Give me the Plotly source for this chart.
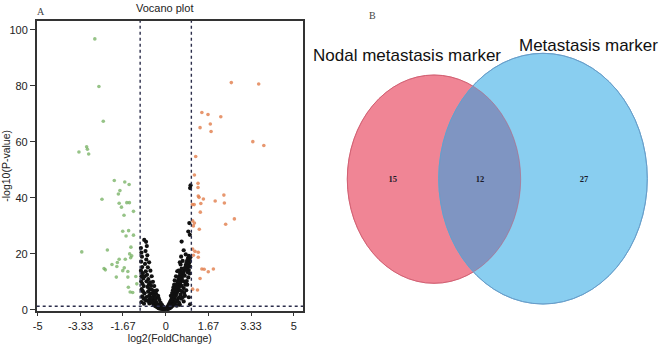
import numpy as np
import plotly.graph_objects as go

# ---------------- data: volcano plot ----------------
down_x = [-2.77, -2.61, -2.44, -3.39, -3.09, -3.06, -3.01, -2.01, -1.60, -1.43, -1.79, -1.85,
          -2.49, -1.82, -1.52, -1.42, -1.73, -1.26, -1.63, -1.68, -1.45, -1.55, -1.26, -3.28,
          -2.28, -1.36, -1.41, -1.33, -1.37, -1.82, -1.58, -1.89, -2.10, -2.41, -2.36, -1.91,
          -1.62, -1.68, -1.48, -1.93, -1.48, -1.17, -1.46, -1.39, -1.29, -1.13]
down_y = [96.8, 79.8, 67.4, 56.4, 58.3, 57.4, 55.7, 46.2, 45.7, 44.8, 42.6, 41.4,
          39.5, 38.1, 38.3, 38.3, 36.7, 35.2, 33.8, 28.1, 28.3, 26.4, 26.7, 20.7,
          21.4, 22.4, 20.0, 19.3, 18.6, 18.1, 18.1, 16.9, 16.2, 14.8, 14.3, 15.5,
          15.0, 14.0, 13.7, 11.7, 11.7, 11.9, 8.1, 6.4, 6.2, 9.3]

up_x = [2.56, 3.63, 1.41, 1.65, 2.15, 1.34, 1.74, 1.77, 3.40, 3.83, 1.17, 1.12, 1.26, 1.27,
        1.47, 1.37, 1.11, 1.93, 2.27, 2.29, 1.35, 2.68, 2.34, 1.05, 1.12, 1.08, 1.31, 1.05,
        1.14, 1.27, 1.08, 1.27, 1.41, 1.86, 1.50, 1.66, 1.34, 1.05, 1.24, 1.04, 1.30, 1.26]
up_y = [81.2, 80.7, 70.5, 69.8, 69.0, 65.1, 66.4, 63.7, 60.1, 58.7, 54.8, 48.2, 43.7, 40.7,
        39.6, 38.0, 37.6, 38.9, 41.0, 38.2, 34.9, 32.5, 30.6, 31.8, 31.0, 30.0, 28.8, 21.7,
        20.9, 20.6, 19.5, 18.8, 14.6, 14.6, 14.5, 13.6, 11.2, 7.4, 7.1, 37.6, 40.2, 45.2]

ns_x = [-0.97, -0.95, -0.93, -0.96, -0.92, -0.97, -0.90, -0.95, -0.88, -0.96, -0.91, -0.86,
        -0.94, -0.89, -0.83, -0.92, -0.87, -0.80, -0.95, -0.85,
        -0.77, -0.74, -0.79, -0.72, -0.76, -0.81, -0.70, -0.78, -0.73, -0.68, -0.75, -0.66,
        -0.71, -0.63, -0.69, -0.60, -0.65, -0.57, -0.62, -0.54, -0.59, -0.50, -0.47, -0.43,
        -0.38, -0.33, -0.28, -0.23, -0.18, -0.12, -0.07,
        -0.55, -0.50, -0.46, -0.52, -0.42, -0.45, -0.37, -0.40, -0.32, -0.35, -0.27, -0.30,
        -0.22, -0.25, -0.17, -0.20, -0.13, -0.15, -0.09, -0.05,
        -0.84, -0.61, -0.57, -0.48, -0.40, -0.58, -0.64, -0.70, -0.75, -0.82,
        -0.30, -0.35, -0.25, -0.45, -0.50, -0.55, -0.60, -0.65, -0.20, -0.15, -0.10,
        -0.38, -0.42, -0.28,
        0.03, 0.06, 0.09, 0.12, 0.15, 0.18, 0.21, 0.24, 0.27, 0.30, 0.33, 0.36, 0.39, 0.42,
        0.45, 0.48, 0.51, 0.54, 0.57, 0.60, 0.63, 0.66, 0.69, 0.72, 0.75, 0.78, 0.81, 0.84,
        0.87, 0.90,
        0.05, 0.08, 0.11, 0.14, 0.17, 0.20, 0.23, 0.26, 0.29, 0.32, 0.35, 0.38, 0.41, 0.44,
        0.47, 0.50, 0.53, 0.56, 0.59, 0.62,
        0.10, 0.16, 0.22, 0.28, 0.34, 0.40, 0.46, 0.52, 0.58, 0.64, 0.70, 0.76, 0.82, 0.88,
        0.94,
        0.85, 0.88, 0.92, 0.95, 0.90, 0.86, 0.93, 0.96, 0.80, 0.74, 0.68, 0.62, 0.56,
        0.62, 0.70, 0.88, 0.92, 0.95, 0.97, 0.94, 0.78, 0.66, 0.58, 0.45, 0.95, 0.90, 0.70,
        0.55,
        0.30, 0.35, 0.40, 0.50, 0.55, 0.60, 0.25, 0.20, 0.28, 0.33, 0.45, 0.60, 0.75, 0.80,
        0.84, 0.72, 0.66, 0.78, 0.52, 0.43]
ns_y = [22.1, 20.5, 19.0, 17.2, 15.3, 14.0, 13.1, 12.0, 11.2, 10.1, 9.3, 8.5,
        7.4, 6.6, 5.9, 4.8, 4.1, 3.5, 2.8, 2.2,
        24.3, 22.8, 21.0, 19.5, 18.0, 16.4, 15.2, 13.8, 12.5, 11.0, 10.2, 9.0,
        8.2, 7.4, 6.5, 5.8, 5.0, 4.5, 3.9, 3.3, 2.8, 2.4, 1.9, 1.5,
        1.2, 0.9, 0.6, 0.4, 0.3, 0.2, 0.1,
        7.2, 6.0, 5.2, 4.1, 3.6, 2.9, 2.5, 3.1, 1.9, 2.2, 1.4, 1.6,
        1.0, 1.2, 0.7, 0.9, 0.5, 0.6, 0.3, 0.2,
        25.0, 9.8, 8.6, 6.8, 4.3, 3.0, 2.3, 3.2, 4.6, 12.0,
        5.0, 7.0, 3.5, 8.5, 10.0, 12.0, 14.0, 17.0, 2.5, 1.8, 1.2,
        5.8, 6.6, 4.2,
        0.1, 0.3, 0.5, 0.8, 1.1, 1.5, 1.9, 2.4, 2.9, 3.4, 4.0, 4.6, 5.2, 5.9,
        6.6, 7.3, 8.1, 8.9, 9.7, 10.5, 11.4, 12.3, 13.2, 14.1, 15.0, 16.0, 16.8, 17.7,
        18.5, 19.3,
        0.8, 1.2, 1.7, 2.2, 2.8, 3.3, 3.9, 4.6, 5.3, 6.0, 6.8, 7.6, 8.4, 9.3,
        10.2, 11.1, 12.0, 12.9, 13.8, 14.7,
        0.3, 0.6, 1.0, 1.5, 2.1, 2.8, 3.6, 4.5, 5.5, 6.6, 7.8, 9.0, 10.3, 11.6,
        13.0,
        15.2, 16.0, 16.8, 15.5, 14.2, 13.4, 17.9, 18.8, 14.5, 12.2, 10.3, 8.6, 7.0,
        24.4, 21.3, 28.0, 31.0, 43.5, 44.5, 26.8, 19.8, 17.5, 16.2, 13.8, 2.0, 4.5, 3.0,
        1.8,
        8.0, 10.5, 12.0, 14.0, 17.0, 19.0, 6.0, 5.0, 7.0, 9.0, 3.0, 4.0, 5.0, 7.0,
        9.0, 6.0, 4.5, 10.0, 2.5, 1.5]

x_ticks = [-5, -3.33, -1.67, 0, 1.67, 3.33, 5]
y_ticks = [0, 20, 40, 60, 80, 100]
fc_cut = 1
p_cut = 1.3

# ---------------- data: Venn ----------------
venn_sets = ["Nodal metastasis marker", "Metastasis marker"]
venn_counts = [15, 12, 27]   # only nodal, both, only metastasis

fig = go.Figure()

fig.add_trace(go.Scatter(x=ns_x, y=ns_y, mode="markers",
                         marker=dict(color="#111111", size=4.2), showlegend=False))
fig.add_trace(go.Scatter(x=down_x, y=down_y, mode="markers",
                         marker=dict(color="rgba(115,175,95,0.75)", size=3.6), showlegend=False))
fig.add_trace(go.Scatter(x=up_x, y=up_y, mode="markers",
                         marker=dict(color="rgba(225,125,75,0.8)", size=3.6), showlegend=False))

# Venn ellipse geometry (in pixel-like coordinates of the second axes)
red = dict(x0=347.3, x1=520.7, y0=75, y1=283.3)
blue = dict(x0=438.7, x1=647.3, y0=53.3, y1=304)

def ell(e):
    return ((e["x0"] + e["x1"]) / 2, (e["y0"] + e["y1"]) / 2,
            (e["x1"] - e["x0"]) / 2, (e["y1"] - e["y0"]) / 2)

def inside(e, px, py):
    cx, cy, a, b = ell(e)
    return ((px - cx) / a) ** 2 + ((py - cy) / b) ** 2 <= 1.0

t = np.linspace(-np.pi, np.pi, 721)
cx, cy, a, b = ell(red)
rx, ry = cx + a * np.cos(t), cy + b * np.sin(t)
m = inside(blue, rx, ry)
arc1 = list(zip(rx[m], ry[m]))
t2 = np.linspace(0, 2 * np.pi, 721)
cx, cy, a, b = ell(blue)
bx, by = cx + a * np.cos(t2), cy + b * np.sin(t2)
m2 = inside(red, bx, by)
arc2 = list(zip(bx[m2], by[m2]))
pts = arc1 + arc2
lens_path = "M " + " L ".join(f"{px:.2f},{py:.2f}" for px, py in pts) + " Z"

shapes = []
shapes.append(dict(type="circle", xref="x2", yref="y2", layer="below",
                   fillcolor="#F08595", line=dict(color="#DC6678", width=1), **red))
shapes.append(dict(type="circle", xref="x2", yref="y2", layer="below",
                   fillcolor="#89CEF0", line=dict(color="#6DB6DE", width=1), **blue))
shapes.append(dict(type="path", xref="x2", yref="y2", layer="below", path=lens_path,
                   fillcolor="#7F95C2", line=dict(width=0)))
shapes.append(dict(type="circle", xref="x2", yref="y2", layer="below",
                   fillcolor="rgba(0,0,0,0)", line=dict(color="rgba(200,90,110,0.5)", width=1), **red))
shapes.append(dict(type="circle", xref="x2", yref="y2", layer="below",
                   fillcolor="rgba(0,0,0,0)", line=dict(color="#6A9CC8", width=1), **blue))

# threshold lines on volcano
for xv in (-fc_cut, fc_cut):
    shapes.append(dict(type="line", xref="x", yref="y domain", x0=xv, x1=xv, y0=0, y1=1,
                       line=dict(color="#2b2d4a", width=1.4, dash="dot")))
shapes.append(dict(type="line", xref="x domain", yref="y", x0=0, x1=1, y0=p_cut, y1=p_cut,
                   line=dict(color="#2b2d4a", width=1.4, dash="dot")))

fig.add_trace(go.Scatter(x=[392.7, 480, 584], y=[180, 180, 180], mode="text",
                         text=[f"<b>{v}</b>" for v in venn_counts],
                         textfont=dict(size=8.5, color="#1a1a2a", family="Liberation Serif"),
                         xaxis="x2", yaxis="y2", showlegend=False))

annotations = [
    dict(text="Vocano plot", x=165.5 / 660, y=1 - 8 / 348, xref="paper", yref="paper",
         showarrow=False, font=dict(size=11, color="#222"), xanchor="center", yanchor="middle"),
    dict(text="A", x=41 / 660, y=1 - 11 / 348, xref="paper", yref="paper",
         showarrow=False, font=dict(size=10, color="#444", family="Liberation Serif"),
         xanchor="center", yanchor="middle"),
    dict(text="B", x=372 / 660, y=1 - 16 / 348, xref="paper", yref="paper",
         showarrow=False, font=dict(size=10, color="#444", family="Liberation Serif"),
         xanchor="center", yanchor="middle"),
    dict(text=venn_sets[0], x=407, y=55, xref="x2", yref="y2", showarrow=False,
         font=dict(size=17, color="#111"), xanchor="center", yanchor="middle"),
    dict(text=venn_sets[1], x=588, y=45, xref="x2", yref="y2", showarrow=False,
         font=dict(size=17, color="#111"), xanchor="center", yanchor="middle"),
]

fig.update_layout(
    width=660, height=348,
    margin=dict(l=0, r=0, t=0, b=0, autoexpand=False),
    paper_bgcolor="white", plot_bgcolor="white",
    font=dict(family="Liberation Sans, Arial", size=11, color="#222"),
    shapes=shapes, annotations=annotations,
    xaxis=dict(domain=[36.7 / 660, 303 / 660], range=[-5.04, 5.36], automargin=False,
               tickvals=x_ticks, ticktext=[str(v) for v in x_ticks],
               ticks="outside", ticklen=4, tickcolor="#333",
               showline=True, mirror=True, linecolor="#333", linewidth=1.5,
               showgrid=False, zeroline=False,
               title=dict(text="log2(FoldChange)", font=dict(size=10.5), standoff=4),
               tickfont=dict(size=11)),
    yaxis=dict(domain=[1 - 310.7 / 348, 1 - 21 / 348], range=[-0.3, 103.2], automargin=False,
               tickvals=y_ticks, ticks="outside", ticklen=5, tickcolor="#333",
               showline=True, mirror=True, linecolor="#333", linewidth=1.5,
               showgrid=False, zeroline=False,
               title=dict(text="-log10(P-value)", font=dict(size=10.5), standoff=2),
               tickfont=dict(size=11)),
    xaxis2=dict(domain=[310 / 660, 1], range=[310, 660], visible=False, anchor="y2",
                automargin=False),
    yaxis2=dict(domain=[0, 1], range=[348, 0], visible=False, anchor="x2", automargin=False),
)

fig.write_html("out.html", config={"displayModeBar": False},
               post_script="document.body.style.margin='0';document.body.style.overflow='hidden';")
